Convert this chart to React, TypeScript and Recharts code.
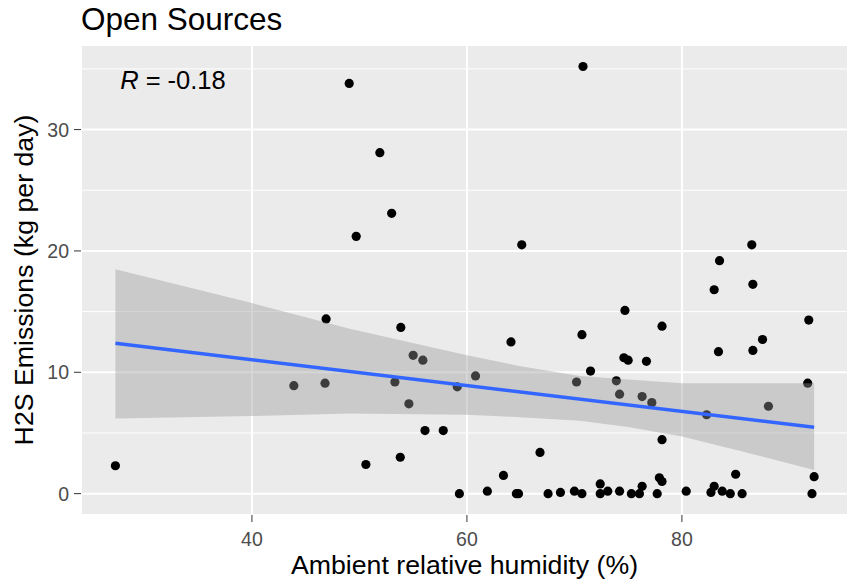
import React from "react"
import {
  ComposedChart,
  Scatter,
  Area,
  Line,
  XAxis,
  YAxis,
  CartesianGrid,
  ReferenceDot,
} from "recharts"

// observations
const humidity = [
  27.3, 43.9, 46.8, 46.9, 49.05, 49.7, 50.6, 51.9, 53.0, 53.3, 53.8, 53.85, 54.6,
  55.0, 55.9, 56.1, 57.8, 59.1, 59.3, 60.8, 61.9, 63.4, 64.1, 64.6, 64.8, 65.1,
  66.8, 67.55, 68.7, 70.0, 70.2, 70.7, 70.7, 70.8, 71.5, 72.4, 72.4, 73.1, 73.9,
  74.2, 74.2, 74.6, 74.7, 75.0, 75.3, 76.05, 76.3, 76.3, 76.7, 77.2, 77.7, 77.9,
  78.15, 78.15, 78.15, 80.4, 82.3, 82.7, 83.0, 83.0, 83.4, 83.5, 83.75, 84.5,
  85.0, 85.6, 86.5, 86.6, 86.6, 87.5, 88.05, 91.7, 91.8, 92.1, 92.3,
]
const emissions = [
  2.3, 8.9, 9.1, 14.4, 33.8, 21.2, 2.4, 28.1, 23.1, 9.2, 3.0, 13.7, 7.4, 11.4,
  11.0, 5.2, 5.2, 8.8, 0, 9.7, 0.2, 1.5, 12.5, 0, 0, 20.5, 3.4, 0, 0.1, 0.2, 9.2,
  0, 13.1, 35.2, 10.1, 0.8, 0, 0.2, 9.3, 8.2, 0.2, 11.2, 15.1, 11.0, 0, 0, 8.0,
  0.6, 10.9, 7.5, 0, 1.3, 1.0, 4.45, 13.8, 0.2, 6.5, 0.1, 0.6, 16.8, 11.7, 19.2,
  0.2, 0, 1.6, 0, 20.5, 17.25, 11.8, 12.7, 7.2, 9.1, 14.3, 0, 1.4,
]

// lm fit + confidence band
const bandX = [27.3, 40, 49, 60, 65, 70.5, 75, 80, 86, 92.3]
const bandLow = [6.2, 6.4, 6.6, 6.5, 6.3, 6.0, 5.5, 4.7, 3.4, 1.95]
const bandHigh = [18.5, 15.7, 13.6, 11.4, 10.5, 9.7, 9.4, 9.1, 9.1, 9.1]
const fitX = [27.3, 92.3]
const fitY = [12.39, 5.47]

const xTicks = [40, 60, 80]
const xMinor = [30, 50, 70, 90]
const yTicks = [0, 10, 20, 30]
const yMinor = [5, 15, 25, 35]

const xDomain = [24.1, 95.45]
const yDomain = [-1.76, 36.97]

const points = humidity.map((h, i) => ({ x: h, y: emissions[i] }))
const band = bandX.map((x, i) => {
  const j = fitX.indexOf(x)
  return { x, band: [bandLow[i], bandHigh[i]], fit: j >= 0 ? fitY[j] : null }
})

const font = "'Liberation Sans', Arial, sans-serif"

export default function App() {
  return (
    <div style={{ position: "absolute", left: 0, top: 0, width: 855, height: 587, background: "#fff", fontFamily: font }}>
      <div style={{ position: "absolute", left: 81, top: 1, fontSize: 31.5, lineHeight: "normal", color: "#000", whiteSpace: "nowrap" }}>
        Open Sources
      </div>
      <ComposedChart
        width={855}
        height={587}
        data={band}
        margin={{ top: 45, right: 7, bottom: 0, left: 0 }}
      >
        <CartesianGrid stroke="#FFFFFF" strokeWidth={2} fill="#EBEBEB" fillOpacity={1} />
        <CartesianGrid stroke="#FFFFFF" strokeWidth={1} xAxisId="minor" yAxisId="minor" />
        <XAxis
          dataKey="x"
          type="number"
          domain={xDomain}
          allowDataOverflow
          ticks={xTicks}
          axisLine={false}
          tickSize={7}
          tickMargin={10}
          tickLine={{ stroke: "#333333", strokeWidth: 1 }}
          tick={{ fill: "#4D4D4D", fontSize: 19.5, fontFamily: font }}
          height={72}
          label={{
            content: ({ viewBox }: any) => (
              <text
                x={viewBox.x + viewBox.width / 2}
                y={viewBox.y + 59}
                textAnchor="middle"
                fontSize={26.7}
                fontFamily={font}
                fill="#000"
              >
                Ambient relative humidity (%)
              </text>
            ),
          }}
        />
        <YAxis
          type="number"
          domain={yDomain}
          allowDataOverflow
          ticks={yTicks}
          axisLine={false}
          tickSize={7}
          tickMargin={5}
          tickLine={{ stroke: "#333333", strokeWidth: 1 }}
          tick={{ fill: "#4D4D4D", fontSize: 19.5, fontFamily: font }}
          width={81}
          label={{
            content: ({ viewBox }: any) => {
              const cx = 33
              const cy = viewBox.y + viewBox.height / 2
              return (
                <text
                  x={cx}
                  y={cy}
                  transform={`rotate(-90, ${cx}, ${cy})`}
                  textAnchor="middle"
                  fontSize={26.7}
                  fontFamily={font}
                  fill="#000"
                >
                  H2S Emissions (kg per day)
                </text>
              )
            },
          }}
        />
        <XAxis xAxisId="minor" type="number" domain={xDomain} allowDataOverflow ticks={xMinor} hide />
        <YAxis yAxisId="minor" type="number" domain={yDomain} allowDataOverflow ticks={yMinor} hide />

        <Scatter
          data={points}
          dataKey="y"
          isAnimationActive={false}
          zIndex={300}
          shape={(p: any) => <circle cx={p.cx} cy={p.cy} r={4.6} fill="#000000" />}
        />
        <Area
          dataKey="band"
          type="linear"
          stroke="none"
          fill="#999999"
          fillOpacity={0.4}
          isAnimationActive={false}
          activeDot={false}
          zIndex={400}
        />
        <Line
          dataKey="fit"
          type="linear"
          stroke="#3366FF"
          strokeWidth={3.5}
          dot={false}
          activeDot={false}
          connectNulls
          isAnimationActive={false}
          zIndex={500}
        />
        <ReferenceDot
          x={27.74}
          y={33.34}
          r={0}
          stroke="none"
          fill="none"
          zIndex={600}
          label={{
            content: ({ viewBox }: any) => (
              <text x={viewBox.x} y={viewBox.y} fontSize={25.5} fontFamily={font} fill="#000">
                <tspan fontStyle="italic">R</tspan>
                <tspan> = -0.18</tspan>
              </text>
            ),
          }}
        />
      </ComposedChart>
    </div>
  )
}
